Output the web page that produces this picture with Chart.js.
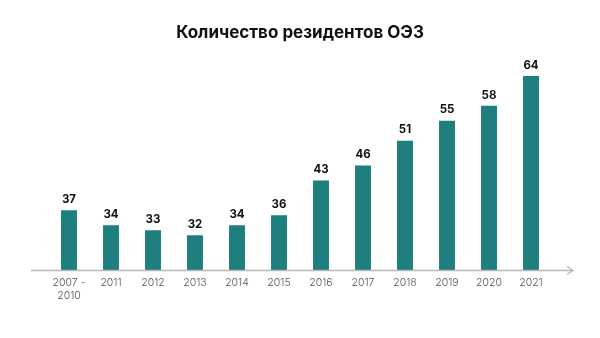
<!DOCTYPE html>
<html>
<head>
<meta charset="utf-8">
<script src="https://cdn.jsdelivr.net/npm/chart.js@4"></script>
<style>
  html, body { margin: 0; padding: 0; background: #ffffff; }
  #wrap { width: 600px; height: 338px; }
</style>
</head>
<body>
<div id="wrap"><canvas id="residents-chart"></canvas></div>
<script>
const years = [["2007 -", "2010"], "2011", "2012", "2013", "2014", "2015", "2016", "2017", "2018", "2019", "2020", "2021"];
const residents = [37, 34, 33, 32, 34, 36, 43, 46, 51, 55, 58, 64];

const barColor = "#1f7f7e";

// axis line with an arrow at the right end
const axisArrow = {
  id: "axisArrow",
  afterDatasetsDraw(chart) {
    const ctx = chart.ctx;
    const y = chart.chartArea.bottom + 0.5;
    const x0 = 31;
    const x1 = 573;
    ctx.save();
    ctx.strokeStyle = "#b9b9b9";
    ctx.lineWidth = 1.3;
    ctx.beginPath();
    ctx.moveTo(x0, y);
    ctx.lineTo(x1, y);
    ctx.moveTo(x1 - 6, y - 4);
    ctx.lineTo(x1, y);
    ctx.lineTo(x1 - 6, y + 4);
    ctx.stroke();
    ctx.restore();
  },
};

// numbers above the bars
const valueLabels = {
  id: "valueLabels",
  afterDatasetsDraw(chart) {
    const ctx = chart.ctx;
    const meta = chart.getDatasetMeta(0);
    ctx.save();
    ctx.fillStyle = "#111111";
    ctx.font = "bold 11.5px Inter, 'Liberation Sans', sans-serif";
    ctx.textAlign = "center";
    ctx.textBaseline = "bottom";
    meta.data.forEach(function (bar, i) {
      ctx.fillText(residents[i], bar.x, bar.y - 5);
    });
    ctx.restore();
  },
};

const ctx = document.getElementById("residents-chart").getContext("2d");

new Chart(ctx, {
  type: "bar",
  data: {
    labels: years,
    datasets: [
      {
        label: "Резиденты",
        data: residents,
        backgroundColor: barColor,
        barPercentage: 0.38,
        categoryPercentage: 1,
      },
    ],
  },
  options: {
    responsive: true,
    maintainAspectRatio: false,
    animation: false,
    layout: {
      padding: { left: 48, right: 48, top: 0, bottom: 0 },
    },
    plugins: {
      legend: { display: false },
      tooltip: { enabled: false },
      title: {
        display: true,
        text: "Количество резидентов ОЭЗ",
        color: "#111111",
        font: { family: "Inter, 'Liberation Sans', sans-serif", size: 17, weight: "bold" },
        padding: { top: 23, bottom: 27.6 },
      },
    },
    scales: {
      x: {
        grid: { display: false, drawTicks: false },
        border: { display: false },
        ticks: {
          color: "#555555",
          padding: 7,
          maxRotation: 0,
          autoSkip: false,
          font: { family: "Inter, 'Liberation Sans', sans-serif", size: 10.5, weight: "300" },
        },
        afterFit(scale) {
          scale.height = 68;
        },
      },
      y: {
        display: false,
        min: 25,
        max: 65,
      },
    },
  },
  plugins: [axisArrow, valueLabels],
});
</script>
</body>
</html>
